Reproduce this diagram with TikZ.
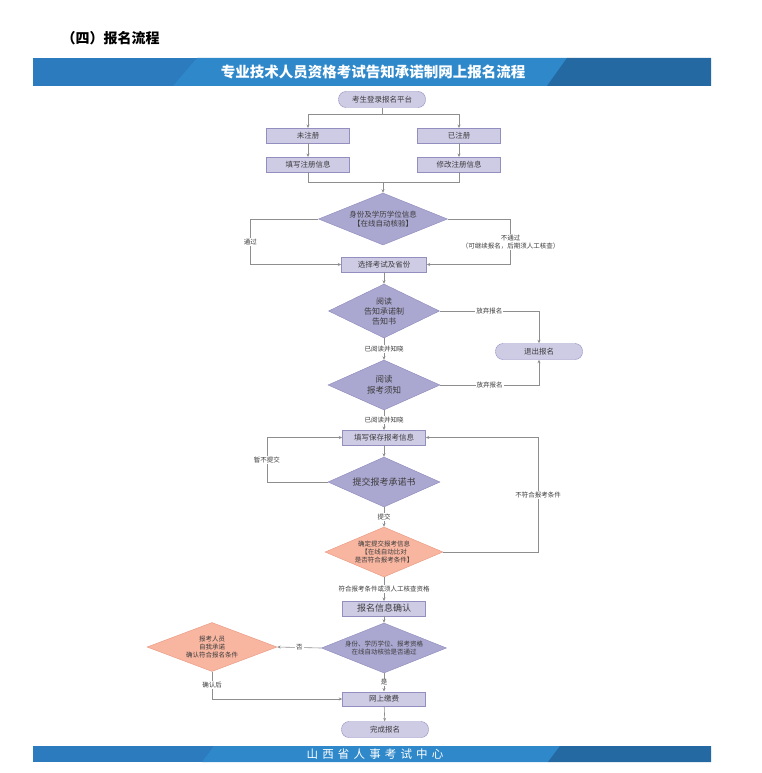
\documentclass[tikz,border=0pt]{standalone}
\usepackage{fontspec}
\usetikzlibrary{shapes.geometric,arrows.meta}
\newfontfamily\cjk{Noto Sans CJK SC}
\newfontfamily\cjkspaced{Noto Sans CJK SC}[LetterSpace=36]

\definecolor{boxfill}{HTML}{CECBE5}
\definecolor{boxedge}{HTML}{928EC0}
\definecolor{diafill}{HTML}{AAA7D0}
\definecolor{diaedge}{HTML}{8D89BC}
\definecolor{salfill}{HTML}{F8B5A0}
\definecolor{saledge}{HTML}{E8977F}
\definecolor{linegray}{HTML}{8E8E8E}
\definecolor{txtgray}{HTML}{3C3C3C}
\definecolor{bannerblue}{HTML}{2B7BBE}
\definecolor{bannerlight}{HTML}{2E88CA}
\definecolor{bannerdark}{HTML}{2569A2}

\begin{document}
\begin{tikzpicture}[x=1pt,y=-1pt,
  font=\cjk\fontsize{6.5}{8}\selectfont,
  line/.style={draw=linegray,line width=0.6pt},
  arr/.style={line,-{Stealth[length=3.5pt,width=3pt]}},
  lbl/.style={fill=white,inner sep=1pt,text=txtgray,align=center},
  stepbox/.style={rectangle,draw=boxedge,fill=boxfill,text=txtgray,
    minimum width=83pt,minimum height=14.5pt,inner sep=1pt,
    font=\cjk\fontsize{7.5}{9}\selectfont},
  endbox/.style={stepbox,rounded corners=7.5pt,minimum width=87pt,minimum height=16pt},
  test/.style={diamond,draw=diaedge,fill=diafill,text=txtgray,align=center,
    inner sep=0pt,shape aspect=2.4},
  saltest/.style={test,draw=saledge,fill=salfill}
]
\def\mx{384} % main column
\useasboundingbox (0,0) rectangle (762,773);

% title and banners
\node[anchor=west,font=\cjk\bfseries\fontsize{14}{16}\selectfont] (title) at (58,38) {（四）报名流程};
\fill[bannerblue] (33,58) rectangle (711,86);
\fill[bannerlight] (197,58) -- (567,58) -- (547,86) -- (173,86) -- cycle;
\fill[bannerdark] (567,58) -- (711,58) -- (711,86) -- (547,86) -- cycle;
\node[text=white,font=\cjk\bfseries\fontsize{14.5}{16}\selectfont] (head) at (373,72) {专业技术人员资格考试告知承诺制网上报名流程};
\fill[bannerblue] (33,746) rectangle (711,762);
\fill[bannerlight] (214,746) -- (560,746) -- (548,762) -- (202,762) -- cycle;
\fill[bannerdark] (560,746) -- (711,746) -- (711,762) -- (548,762) -- cycle;
\node[text=white,font=\cjkspaced\fontsize{11.5}{12}\selectfont] (foot) at (375,754) {山西省人事考试中心};

% nodes
\node[endbox] (start) at (382,99.5) {考生登录报名平台};
\node[stepbox] (reg0) at (308,135.5) {未注册};
\node[stepbox] (reg1) at (459,135.5) {已注册};
\node[stepbox] (fill0) at (308,164.5) {填写注册信息};
\node[stepbox] (fill1) at (459,164.5) {修改注册信息};
\node[test,minimum width=129pt,minimum height=52pt,font=\cjk\fontsize{7.5}{9.5}\selectfont] (check) at (383,219) {身份及学历学位信息\\【在线自动核验】};
\node[stepbox,minimum width=85pt] (choose) at (\mx,264.5) {选择考试及省份};
\node[test,minimum width=111pt,minimum height=54pt,font=\cjk\fontsize{8}{10}\selectfont] (read1) at (\mx,311) {阅读\\告知承诺制\\告知书};
\node[endbox] (quit) at (539,351.5) {退出报名};
\node[test,minimum width=112pt,minimum height=50pt,font=\cjk\fontsize{8.5}{11}\selectfont] (read2) at (\mx,385) {阅读\\报考须知};
\node[stepbox] (save) at (\mx,437.5) {填写保存报考信息};
\node[test,minimum width=112pt,minimum height=50pt,font=\cjk\fontsize{9}{11}\selectfont] (submit) at (\mx,482) {提交报考承诺书};
\node[saltest,minimum width=118pt,minimum height=50pt] (compare) at (\mx,552) {确定提交报考信息\\【在线自动比对\\是否符合报考条件】};
\node[stepbox,font=\cjk\fontsize{9}{11}\selectfont] (confirm) at (\mx,608.5) {报名信息确认};
\node[test,minimum width=125pt,minimum height=50pt] (verify) at (\mx,648) {身份、学历学位、报考资格\\在线自动核验是否通过};
\node[saltest,minimum width=130pt,minimum height=49pt] (promise) at (212,647) {报考人员\\自我承诺\\确认符合报名条件};
\node[stepbox] (pay) at (\mx,699) {网上缴费};
\node[endbox] (done) at (385,729.5) {完成报名};

% connectors
\coordinate (split) at (382,114);
\coordinate (join) at (383,182);
\draw[line] (start) -- (split);
\draw[arr] (split) -| (reg0);
\draw[arr] (split) -| (reg1);
\draw[arr] (reg0) -- (fill0);
\draw[arr] (reg1) -- (fill1);
\draw[line] (fill0) |- (join);
\draw[line] (fill1) |- (join);
\draw[arr] (join) -- (check);
\draw[arr] (check.west) -- ++(-68,0) |- node[lbl,pos=0.25] {通过} (choose.west);
\draw[arr] (check.east) -- ++(63,0) |- node[lbl,pos=0.25] {不通过\\（可继续报名，后期须人工核查）} (choose.east);
\draw[arr] (choose) -- (read1);
\draw[arr] (read1.east) -| node[lbl,pos=0.25] {放弃报名} (quit.north);
\draw[arr] (read1) -- node[lbl] {已阅读并知晓} (read2);
\draw[arr] (read2.east) -| node[lbl,pos=0.25] {放弃报名} (quit.south);
\draw[arr] (read2) -- node[lbl] {已阅读并知晓} (save);
\draw[arr] (save) -- (submit);
\draw[arr] (submit.west) -- ++(-61,0) |- node[lbl,pos=0.25] {暂不提交} (save.west);
\draw[arr] (submit) -- node[lbl] {提交} (compare);
\draw[arr] (compare.east) -- ++(95,0) |- node[lbl,pos=0.25] {不符合报考条件} (save.east);
\draw[arr] (compare) -- node[lbl] {符合报考条件或须人工核查资格} (confirm);
\draw[arr] (confirm) -- (verify);
\draw[arr] (verify.west) -- node[lbl] {否} (promise.east);
\draw[arr] (verify) -- node[lbl] {是} (pay);
\draw[arr] (promise.south) |- node[lbl,pos=0.25] {确认后} (pay.west);
\draw[arr] (pay) -- (done);
\end{tikzpicture}
\end{document}
